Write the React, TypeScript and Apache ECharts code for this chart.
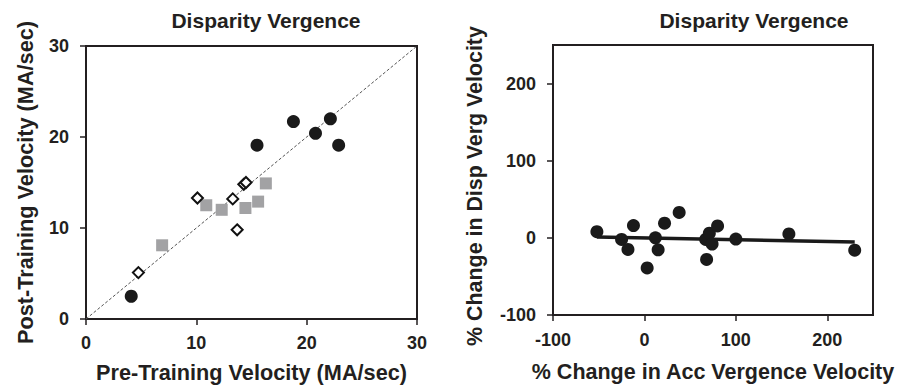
import React, { useEffect, useRef } from "react";
import * as echarts from "echarts";

// Left panel: Pre vs Post training velocity (MA/sec)
const circlePre = [4.1, 15.5, 18.8, 20.8, 22.15, 22.9];
const circlePost = [2.5, 19.1, 21.7, 20.4, 22.0, 19.1];
const squarePre = [6.9, 10.9, 12.3, 14.45, 15.6, 16.3];
const squarePost = [8.1, 12.5, 12.0, 12.2, 12.9, 14.9];
const diamondPre = [4.75, 10.1, 13.3, 13.7, 14.3, 14.5];
const diamondPost = [5.1, 13.3, 13.2, 9.8, 14.8, 15.0];
const identityLine = [0, 30];
const leftTicks = [0, 10, 20, 30];

// Right panel: % change in acc vergence vs % change in disparity vergence
const accChange = [-52, -25, -18, -12, 3, 12, 15, 22, 38, 68, 67, 71, 74, 80, 100, 158, 230];
const dispChange = [8, -2, -15, 16, -39, 0, -15.5, 19, 33, -28, -2, 6, -8, 15.5, -1.5, 5, -16];
const trendX = [-52, 230];
const trendY = [1, -5.5];
const rightTicks = [-100, 0, 100, 200];

const titleText = "Disparity Vergence";
const FONT = "'Liberation Sans', Arial, Helvetica, sans-serif";
const INK = "#231f20";

const zip = (a: number[], b: number[]) => a.map((v, i) => [v, b[i]]);

export default function App() {
  const ref = useRef<HTMLDivElement>(null);
  useEffect(() => {
    if (!ref.current) return;
    const chart = echarts.init(ref.current, null, { renderer: "svg" });
    const axisCommon = (customValues: number[], margin: number, nameSize: number) => ({
      axisLine: { show: true, onZero: false, lineStyle: { color: INK, width: 2 } },
      axisTick: { show: true, inside: false, length: 6, customValues, lineStyle: { color: INK, width: 1.5 } },
      axisLabel: { customValues, margin, color: INK, fontSize: 18, fontWeight: "bold", fontFamily: FONT },
      splitLine: { show: false },
      nameTextStyle: { color: INK, fontSize: nameSize, fontWeight: "bold", fontFamily: FONT },
    });
    const titleStyle = { text: titleText, align: "center", verticalAlign: "middle", fill: INK, fontSize: 21, fontWeight: "bold", fontFamily: FONT };
    const option: any = {
      animation: false,
      backgroundColor: "#ffffff",
      graphic: [
        { type: "text", x: 266, y: 20, style: titleStyle },
        { type: "text", x: 754, y: 20, style: titleStyle },
      ],
      grid: [
        { left: 86, top: 46, width: 331, height: 276, show: true, borderColor: INK, borderWidth: 2, backgroundColor: "transparent" },
        { left: 553, top: 45, width: 320, height: 270, show: true, borderColor: INK, borderWidth: 2, backgroundColor: "transparent" },
      ],
      xAxis: [
        {
          gridIndex: 0, type: "value", min: 0, max: 30, interval: 10,
          name: "Pre-Training Velocity (MA/sec)", nameLocation: "middle", nameGap: 42,
          ...axisCommon(leftTicks, 15, 21.7),
        },
        {
          gridIndex: 1, type: "value", min: -100, max: 250, interval: 100,
          name: "% Change in Acc Vergence Velocity", nameLocation: "middle", nameGap: 46,
          ...axisCommon(rightTicks, 16, 21.5),
        },
      ],
      yAxis: [
        {
          gridIndex: 0, type: "value", min: 0, max: 30, interval: 10,
          name: "Post-Training Velocity (MA/sec)", nameLocation: "middle", nameGap: 50,
          ...axisCommon(leftTicks, 17, 21.7),
        },
        {
          gridIndex: 1, type: "value", min: -100, max: 250, interval: 100,
          name: "% Change in Disp Verg Velocity", nameLocation: "middle", nameGap: 68,
          ...axisCommon(rightTicks, 17, 21.4),
          nameTextStyle: { color: INK, fontSize: 21.4, fontWeight: "bold", fontFamily: FONT, padding: [0, 12, 0, 0] },
        },
      ],
      series: [
        {
          type: "line", xAxisIndex: 0, yAxisIndex: 0, z: 1,
          data: zip(identityLine, identityLine), symbol: "none",
          lineStyle: { color: "#555", width: 1, type: [3, 2] },
        },
        {
          type: "scatter", xAxisIndex: 0, yAxisIndex: 0, z: 3,
          data: zip(squarePre, squarePost), symbol: "rect", symbolSize: 12,
          itemStyle: { color: "#a2a2a4", opacity: 1 },
        },
        {
          type: "scatter", xAxisIndex: 0, yAxisIndex: 0, z: 4,
          data: zip(diamondPre, diamondPost), symbol: "diamond", symbolSize: 11,
          itemStyle: { color: "#ffffff", borderColor: "#111", borderWidth: 2, opacity: 1 },
        },
        {
          type: "scatter", xAxisIndex: 0, yAxisIndex: 0, z: 5,
          data: zip(circlePre, circlePost), symbol: "circle", symbolSize: 13,
          itemStyle: { color: "#1a1a1a", opacity: 1 },
        },
        {
          type: "line", xAxisIndex: 1, yAxisIndex: 1, z: 3,
          data: zip(trendX, trendY), symbol: "none",
          lineStyle: { color: "#1a1a1a", width: 3.5 },
        },
        {
          type: "scatter", xAxisIndex: 1, yAxisIndex: 1, z: 4,
          data: zip(accChange, dispChange), symbol: "circle", symbolSize: 13,
          itemStyle: { color: "#1a1a1a", opacity: 1 },
        },
      ],
    };
    chart.setOption(option);
    return () => chart.dispose();
  }, []);
  return (
    <div
      ref={ref}
      style={{ position: "fixed", left: 0, top: 0, width: 898, height: 388, background: "#fff" }}
    />
  );
}
